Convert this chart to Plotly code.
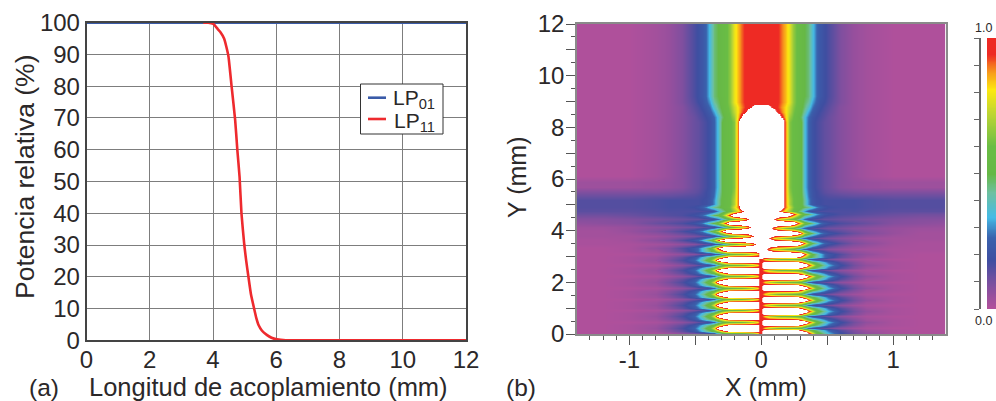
import plotly.graph_objects as go

W, H = 996, 401
FONT = "Liberation Sans"
INK = "#2b2829"

# ---------- panel (a) ----------
LEN_X = [0, 12]
LP01 = [100, 100]
CURVE_X = [3.69, 3.85, 4.01, 4.15, 4.22, 4.35, 4.42, 4.49, 4.59, 4.70, 4.77, 4.84, 4.90, 4.99, 5.05, 5.12, 5.20, 5.30, 5.37, 5.44, 5.55, 5.70, 5.85, 6.02, 6.30, 8, 12]
LP11 = [100, 100, 99.6, 98, 97.2, 95, 92.5, 89.3, 79.8, 69.4, 59.9, 51.5, 40, 30, 25, 20, 14.5, 10, 7, 4.8, 3, 1.7, 0.8, 0.3, 0, 0, 0]

# ---------- panel (b): field map ----------
# distance from the axis (mm), one value per column of every profile below
ABS_X = [0, .03, .06, .09, .12, .15, .18, .21, .24, .27, .30, .33, .36, .39, .42, .45, .48, .51, .6, .7, .8, 1.0, 1.2, 1.4]
WHITE = 1.3
P = {
 "top": [1,1,1,.98,.95,.9,.85,.78,.66,.58,.54,.5,.46,.36,.27,.22,.19,.16,.09,.05,.03,.01,.01,.01],
 "a":   [.95,.96,.97,.97,.95,.9,.85,.78,.66,.58,.53,.48,.43,.32,.25,.2,.18,.15,.09,.05,.03,.01,.01,.01],
 "b":   [1.05,1.05,1.02,.98,.94,.88,.82,.74,.64,.57,.52,.46,.38,.28,.22,.19,.16,.14,.08,.05,.03,.01,.01,.01],
 "c":   [WHITE,WHITE,1.2,1.08,.98,.9,.82,.72,.62,.56,.5,.42,.32,.24,.2,.17,.15,.13,.08,.05,.03,.01,.01,.01],
 "c2":  [WHITE]*4 + [1.2,1.0,.84,.68,.6,.54,.47,.36,.27,.21,.18,.16,.14,.12,.08,.05,.03,.01,.01,.01],
 "d":   [WHITE]*6 + [.9,.64,.58,.54,.5,.36,.26,.2,.17,.15,.13,.12,.08,.05,.03,.01,.01,.01],
 "g":   [WHITE]*6 + [.9,.64,.58,.54,.5,.36,.26,.2,.17,.15,.13,.12,.08,.06,.05,.04,.04,.04],
 "e":   [WHITE]*6 + [.9,.66,.58,.54,.5,.38,.27,.21,.18,.16,.14,.13,.11,.10,.09,.09,.09,.09],
 "e2":  [WHITE]*6 + [.9,.68,.59,.54,.51,.4,.28,.21,.18,.17,.16,.15,.14,.13,.13,.12,.12,.12],
 "f":   [WHITE]*6 + [.9,.7,.6,.55,.52,.42,.3,.22,.19,.18,.17,.17,.17,.17,.16,.15,.15,.15],
 "u1":  [WHITE]*5 + [1.15,.9,.76,.62,.56,.52,.48,.44,.38,.3,.24,.2,.18,.17,.17,.16,.15,.15,.15],
 "v1":  [WHITE]*4 + [1.1,.9,.78,.68,.58,.5,.42,.32,.22,.18,.17,.16,.16,.16,.16,.16,.15,.14,.14,.14],
 "u2":  [WHITE]*7 + [1.2,1.0,.8,.62,.52,.48,.4,.32,.26,.21,.19,.16,.15,.14,.12,.11,.11],
 "v2":  [WHITE]*3 + [1.05,.85,.74,.68,.62,.54,.46,.36,.27,.2,.17,.15,.14,.13,.13,.12,.11,.10,.09,.08,.08],
 "u3":  [WHITE]*8 + [1.25,1.0,.78,.6,.52,.44,.36,.28,.23,.2,.16,.14,.12,.08,.07,.06],
 "v3":  [WHITE]*2 + [1.2,.92,.78,.7,.64,.6,.52,.42,.32,.24,.18,.16,.14,.13,.12,.11,.1,.08,.07,.05,.04,.04],
 "u4":  [WHITE]*9 + [1.2,.98,.72,.58,.47,.38,.3,.25,.21,.16,.12,.09,.05,.03,.03],
 "v4":  [WHITE]*2 + [1,.82,.74,.68,.64,.6,.52,.42,.32,.24,.18,.15,.13,.12,.11,.1,.08,.06,.04,.03,.03,.03],
 "u5":  [WHITE]*10 + [1.1,.92,.66,.5,.42,.33,.26,.22,.15,.1,.07,.03,.02,.02],
 "v5":  [WHITE,1.05,.88,.76,.7,.66,.62,.58,.52,.42,.32,.25,.19,.15,.13,.11,.1,.08,.06,.04,.03,.02,.02,.02],
 "u6":  [WHITE]*10 + [1.2,1.0,.72,.52,.44,.35,.27,.22,.15,.09,.06,.02,.01,.01],
 "s6":  [1.12,1.1,1.08,1.06,1.06,1.06,1.06,1.06,1.04,1.0,.88,.72,.58,.47,.42,.34,.27,.21,.13,.08,.04,.02,.01,.01],
 "v6":  [.98,.82,.72,.66,.62,.6,.6,.58,.54,.46,.34,.25,.19,.15,.13,.11,.1,.08,.06,.04,.02,.01,.01,.01],
 "gap": [.97,.8,.7,.66,.62,.6,.6,.58,.56,.54,.5,.4,.26,.2,.17,.15,.13,.11,.07,.04,.02,.01,.01,.01],
 "shL": [.98,1.06,1.06,1.06,1.06,1.06,1.06,1.06,1.05,.98,.85,.7,.56,.47,.42,.34,.27,.21,.13,.08,.04,.02,.01,.01],
 "shR": [.98,1.06,1.06,1.06,1.06,1.06,1.06,1.06,1.06,1.03,.95,.8,.66,.52,.46,.4,.33,.26,.15,.09,.04,.02,.01,.01],
 "lobeL": [.98,WHITE,WHITE,WHITE,WHITE,WHITE,WHITE,WHITE,WHITE,WHITE,WHITE,1.15,.78,.58,.5,.42,.33,.25,.16,.10,.05,.02,.01,.01],
 "lobeR": [.98,WHITE,WHITE,WHITE,WHITE,WHITE,WHITE,WHITE,WHITE,WHITE,WHITE,WHITE,1.0,.8,.56,.5,.42,.34,.19,.11,.06,.02,.01,.01],
}
MID_Y = [5.05, 5.2, 5.35, 5.5, 5.7, 5.9, 6.1, 6.3, 6.5, 6.7, 6.9, 7.1, 7.3, 7.5, 7.7, 7.9, 8.2, 8.4, 8.6, 8.8, 9.0, 9.2, 12]
MID_ROW = ["f", "f", "e2", "e", "g", "g", "d", "d", "d", "d", "d", "d", "d", "d", "d", "d", "d", "c2", "c", "b", "a", "top", "top"]
# row positions (mm) and the profile read at each of them, per half of the map
LEFT_Y = [.02, .13, .24, .35, .46, .58, .69, .80, .91, 1.01, 1.12, 1.23, 1.34, 1.45, 1.56, 1.67, 1.78, 1.90, 2.01, 2.12, 2.24, 2.35, 2.46, 2.56, 2.67, 2.78, 2.88, 2.99, 3.10, 3.21, 3.32, 3.48, 3.65, 3.81, 3.97, 4.14, 4.30, 4.45, 4.60, 4.75, 4.90] + MID_Y
LEFT_ROW = ["gap","shL","lobeL","shL","gap","shL","lobeL","shL","gap","shL","lobeL","shL","gap","shL","lobeL","shL","gap","shL","lobeL","shL","gap","shL","lobeL","shL","gap","shL","lobeL","shL","v6","s6","u6","v5","u5","v4","u4","v3","u3","v2","u2","v1","u1"] + MID_ROW
RIGHT_Y = [.03, .14, .24, .34, .45, .56, .68, .79, .90, 1.01, 1.12, 1.22, 1.33, 1.44, 1.56, 1.69, 1.80, 1.91, 2.01, 2.12, 2.23, 2.34, 2.46, 2.57, 2.68, 2.79, 2.89, 3.00, 3.10, 3.30, 3.51, 3.70, 3.90, 4.09, 4.28, 4.46, 4.64, 4.78, 4.92] + MID_Y
RIGHT_ROW = ["lobeR","shR","gap","shR","lobeR","shR","gap","shR","lobeR","shR","gap","shR","lobeR","shR","gap","shR","lobeR","shR","gap","shR","lobeR","shR","gap","shR","lobeR","shR","gap","s6","u6","v5","u5","v4","u4","v3","u3","v2","u2","v1","u1"] + MID_ROW

ZMAX = WHITE
STOP_VALUE = [0, .09, .18, .265, .34, .43, .5, .6, .72, .81, .88, .94, 1.0, 1.004, 1.3]
STOP_COLOR = ["#b5509b", "#7f4f9f", "#3f4ea1", "#3a62ad", "#45bbe6", "#6ec0a0", "#66b846", "#6abd45", "#bcd534", "#fde910", "#f7941d", "#ee2a24", "#ee2a24", "#ffffff", "#ffffff"]
colorscale = [[v / ZMAX, c] for v, c in zip(STOP_VALUE, STOP_COLOR)]
bar_stops = [[v, c] for v, c in zip(STOP_VALUE[:13], STOP_COLOR[:13])]
BAR_LEVELS = [i / 100 for i in range(101)]


def px(x):
    return x / W


def py(y):
    return 1 - y / H


fig = go.Figure()
fig.add_trace(go.Scatter(x=LEN_X, y=LP01, mode="lines", name="LP01", line=dict(color="#3a5ba8", width=2.6), cliponaxis=False, xaxis="x", yaxis="y"))
fig.add_trace(go.Scatter(x=CURVE_X, y=LP11, mode="lines", name="LP11", line=dict(color="#ee2a2e", width=2.6, shape="spline", smoothing=0.4), cliponaxis=False, xaxis="x", yaxis="y"))

common = dict(zmin=0, zmax=ZMAX, colorscale=colorscale, showscale=False, zsmooth="best", xaxis="x2", yaxis="y2", hoverinfo="skip")
fig.add_trace(go.Heatmap(x=[-v for v in reversed(ABS_X)], y=LEFT_Y, z=[list(reversed(P[k])) for k in LEFT_ROW], **common))
fig.add_trace(go.Heatmap(x=ABS_X, y=RIGHT_Y, z=[P[k] for k in RIGHT_ROW], **common))
fig.add_trace(go.Heatmap(x=[0, 1], y=BAR_LEVELS, z=[[v, v] for v in BAR_LEVELS], zmin=0, zmax=1, colorscale=bar_stops, showscale=False, zsmooth="best", xaxis="x3", yaxis="y3", hoverinfo="skip"))

tick = dict(family=FONT, size=24, color=INK)
fig.update_layout(
    template="none",
    width=W, height=H, margin=dict(l=0, r=0, t=0, b=0, autoexpand=False), paper_bgcolor="white", plot_bgcolor="white",
    font=dict(family=FONT, color=INK),
    xaxis=dict(domain=[px(86.5), px(466)], anchor="y", range=[0, 12], dtick=2, tick0=0, showgrid=True, gridcolor="#7d7d7d", gridwidth=1, zeroline=False,
               showline=True, linecolor="#444", linewidth=1.5, mirror=True, ticks="", tickfont=tick, ticklen=0, tickangle=0, automargin=False, ticklabelstandoff=-3),
    yaxis=dict(domain=[py(340.3), py(22.7)], anchor="x", range=[0, 100], dtick=10, tick0=0, showgrid=True, gridcolor="#7d7d7d", gridwidth=1, zeroline=False,
               showline=True, linecolor="#444", linewidth=1.5, mirror=True, ticks="", tickfont=tick, ticklen=0, automargin=False),
    xaxis2=dict(domain=[px(577), px(945.5)], anchor="y2", range=[-1.398, 1.398], tickvals=[-1, -.5, 0, .5, 1], ticktext=["-1", "", "0", "", "1"], showgrid=False, zeroline=False,
                showline=True, linecolor="#8a8a8a", linewidth=1.5, mirror=True, ticks="outside", ticklen=9, tickcolor="#555", tickfont=tick, tickangle=0, automargin=False, ticklabelstandoff=-6,
                minor=dict(dtick=.1, tick0=0, ticks="outside", ticklen=4, tickcolor="#555")),
    yaxis2=dict(domain=[py(334), py(24)], anchor="x2", range=[0, 12], tickvals=list(range(13)), ticktext=[str(v) if v % 2 == 0 else "" for v in range(13)], showgrid=False, zeroline=False,
                showline=True, linecolor="#8a8a8a", linewidth=1.5, mirror=True, ticks="outside", ticklen=9, tickcolor="#555", tickfont=tick, automargin=False, ticklabelstandoff=-3,
                minor=dict(dtick=.5, tick0=0, ticks="outside", ticklen=4, tickcolor="#555")),
    xaxis3=dict(domain=[px(987), px(996)], anchor="y3", range=[0, 1], visible=False),
    yaxis3=dict(domain=[py(309), py(38)], range=[0, 1], anchor="free", position=px(979.5), side="left", tickvals=[0, .1, .2, .3, .4, .5, .6, .7, .8, .9, 1],
                ticktext=[""] * 11, showgrid=False, zeroline=False, showline=True, linecolor="#666", linewidth=1.5, ticks="outside", ticklen=5, tickcolor="#666", automargin=False),
    showlegend=False,
)


def label(text, x, y, size=23, angle=0, anchor="center"):
    fig.add_annotation(text=text, x=px(x), y=py(y), xref="paper", yref="paper", showarrow=False, xanchor=anchor, yanchor="middle",
                       textangle=angle, font=dict(family=FONT, size=size, color=INK))


label("Potencia relativa (%)", 25, 177, 26.5, -90)
label("Longitud de acoplamiento (mm)", 268, 387, 25.5)
label("(a)", 44, 387, 24.5)
label("Y (mm)", 517, 178, 25, -90)
label("X (mm)", 766, 387, 25)
label("(b)", 521, 387, 24.5)
label("1.0", 983, 28, 12.5)
label("0.0", 983, 321, 12.5)


def box(x0, y0, x1, y1, **line):
    fig.add_shape(type="rect", xref="paper", yref="paper", x0=px(x0), x1=px(x1), y0=py(y0), y1=py(y1), fillcolor="white", line=line, layer="above")


def stroke(x0, x1, y, color):
    fig.add_shape(type="line", xref="paper", yref="paper", x0=px(x0), x1=px(x1), y0=py(y), y1=py(y), line=dict(color=color, width=2.6), layer="above")


box(360.5, 84, 443, 134, color="#333", width=1)
stroke(368, 386, 97.7, "#3a5ba8")
stroke(368, 386, 119, "#ee2a2e")
label("LP<sub>01</sub>", 391, 99, 21, anchor="left")
label("LP<sub>11</sub>", 392, 122, 21, anchor="left")

fig.write_html("out.html", config={"displayModeBar": False}, post_script="document.body.style.margin='0';")
